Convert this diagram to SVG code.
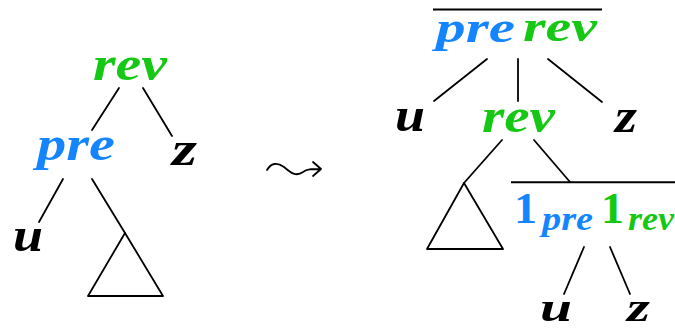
<svg xmlns="http://www.w3.org/2000/svg" width="675" height="331" viewBox="0 0 675 331">
<style>
.t{font-family:"Liberation Serif","DejaVu Serif",serif;font-weight:bold;font-style:italic;font-size:48px}
.r{font-size:44px}
.q{font-size:42px}
.s{font-family:"Liberation Serif","DejaVu Serif",serif;font-weight:bold;font-style:italic;font-size:34px}
.n{font-family:"Liberation Serif","DejaVu Serif",serif;font-weight:bold;font-size:45px}
.b{fill:#1585ff}.g{fill:#14c814}.k{fill:#000}
.e{stroke:#000;stroke-width:1.8;fill:none;stroke-linecap:round;stroke-linejoin:round}
</style>
<rect width="675" height="331" fill="#fff"/>
<g id="connectors" class="e">
<line x1="119" y1="88" x2="92" y2="130"/>
<line x1="143" y1="88" x2="172" y2="136"/>
<line x1="63" y1="179" x2="39" y2="222"/>
<line x1="92" y1="179" x2="125" y2="233"/>
<line x1="487" y1="59" x2="434" y2="101"/>
<line x1="518" y1="59" x2="518" y2="101"/>
<line x1="548" y1="59" x2="602" y2="102"/>
<line x1="502" y1="140" x2="464" y2="183"/>
<line x1="534" y1="140" x2="570" y2="182"/>
<line x1="584" y1="247" x2="564" y2="294"/>
<line x1="610" y1="247" x2="630" y2="294"/>
</g>
<g id="left-root"><text class="t g" x="93" y="80" textLength="74" lengthAdjust="spacingAndGlyphs">rev</text></g>
<g id="left-pre"><text class="t b" x="37" y="160" textLength="78" lengthAdjust="spacingAndGlyphs">pre</text></g>
<g id="left-z"><text class="t k" x="172" y="165" textLength="25" lengthAdjust="spacingAndGlyphs">z</text></g>
<g id="left-u"><text class="t k" x="13" y="251" textLength="30" lengthAdjust="spacingAndGlyphs">u</text></g>
<g id="left-triangle"><polygon class="e" points="125,233 88,296 163,296"/></g>
<g id="leadsto"><path class="e" stroke-width="2.4" d="M267,170 C271,163 277,162 284,167 C291,173 296,177 303,172 C307,169 311,169 320,169 M313,162 L321,169 L313,176"/></g>
<g id="right-root">
<line x1="433" y1="9.5" x2="602" y2="9.5" stroke="#000" stroke-width="2"/>
<text class="t r b" x="436" y="42" textLength="79" lengthAdjust="spacingAndGlyphs">pre</text>
<text class="t r g" x="523" y="41" textLength="74" lengthAdjust="spacingAndGlyphs">rev</text>
</g>
<g id="right-u"><text class="t k" x="395" y="131" textLength="30" lengthAdjust="spacingAndGlyphs">u</text></g>
<g id="right-rev"><text class="t g" x="482" y="132" textLength="73" lengthAdjust="spacingAndGlyphs">rev</text></g>
<g id="right-z"><text class="t k" x="615" y="132" textLength="22" lengthAdjust="spacingAndGlyphs">z</text></g>
<g id="right-triangle"><polygon class="e" points="464,183 427,249 503,249"/></g>
<g id="right-ones">
<line x1="511" y1="182.3" x2="675" y2="182.3" stroke="#000" stroke-width="2"/>
<text class="n b" x="514" y="223" textLength="23" lengthAdjust="spacingAndGlyphs">1</text>
<text class="s b" x="542" y="230" textLength="51" lengthAdjust="spacingAndGlyphs">pre</text>
<text class="n g" x="601" y="223" textLength="23" lengthAdjust="spacingAndGlyphs">1</text>
<text class="s g" x="628" y="230" textLength="46" lengthAdjust="spacingAndGlyphs">rev</text>
</g>
<g id="right-u2"><text class="t q k" x="540" y="321" textLength="32" lengthAdjust="spacingAndGlyphs">u</text></g>
<g id="right-z2"><text class="t q k" x="627" y="321" textLength="23" lengthAdjust="spacingAndGlyphs">z</text></g>
</svg>
